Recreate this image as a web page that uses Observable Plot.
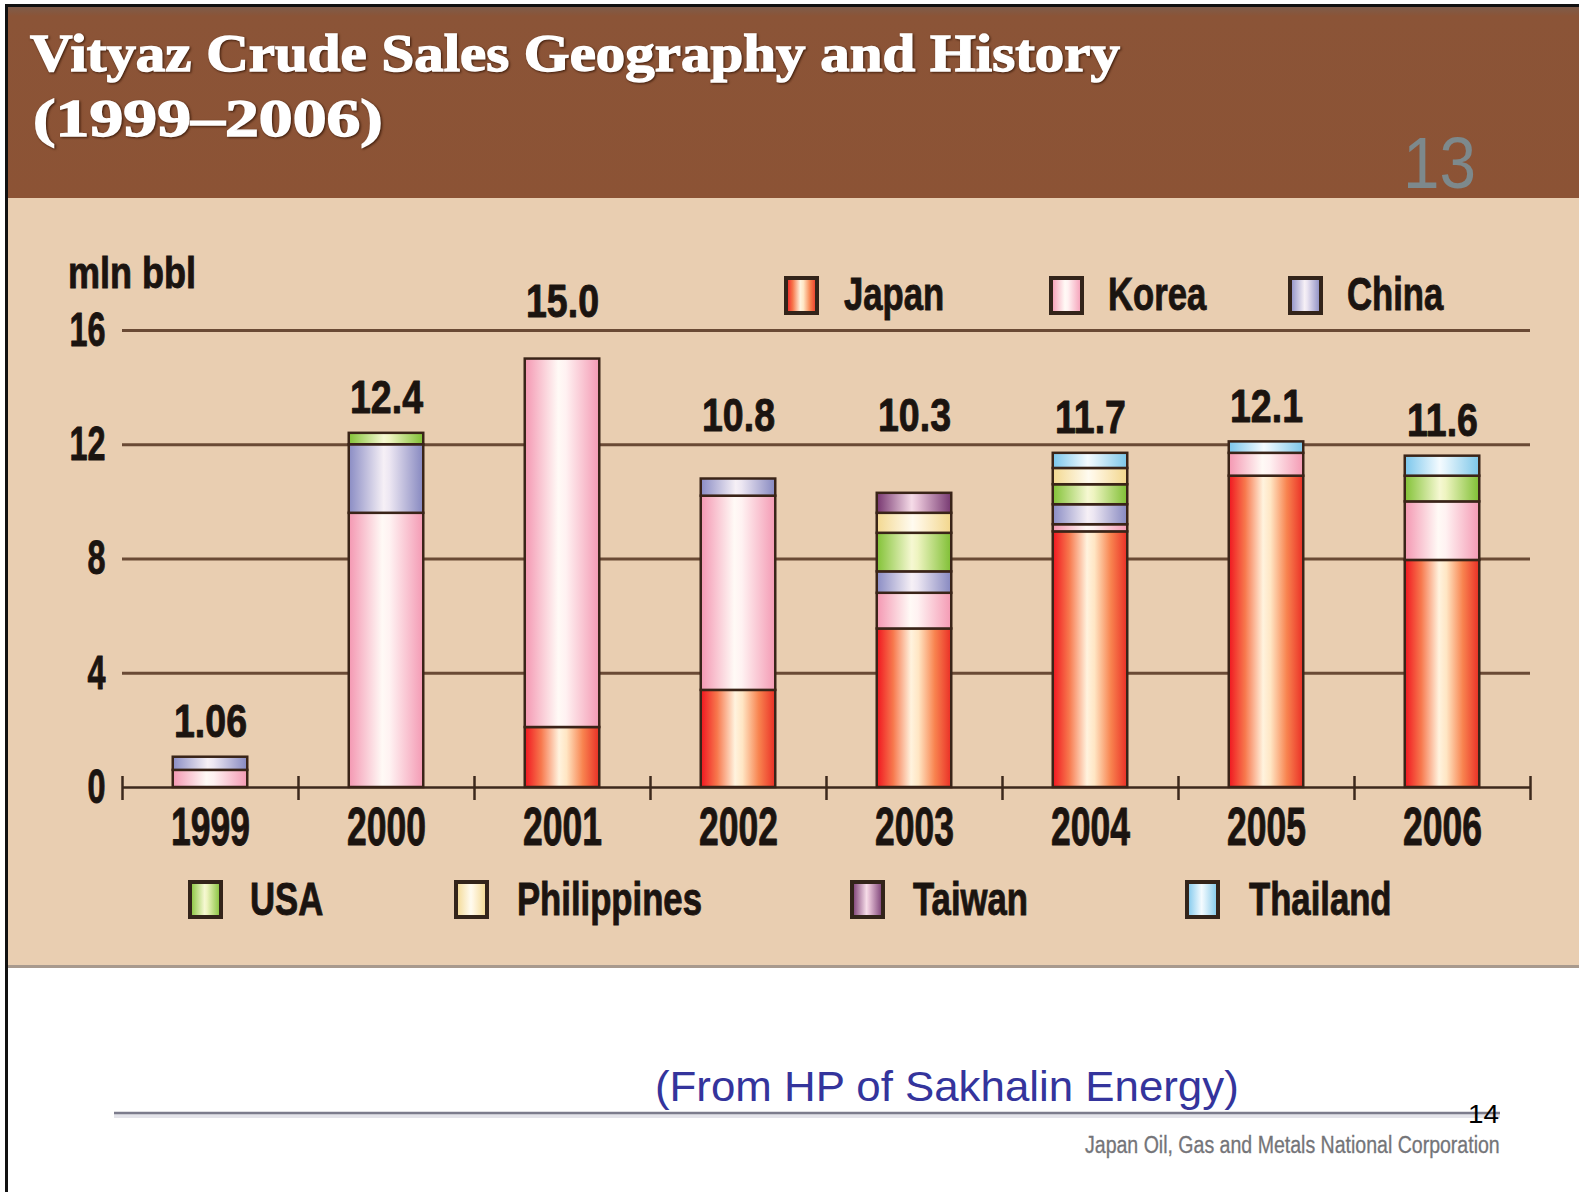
<!DOCTYPE html>
<html>
<head>
<meta charset="utf-8">
<script src="https://cdn.jsdelivr.net/npm/d3@7"></script>
<script src="https://cdn.jsdelivr.net/npm/@observablehq/plot@0.6"></script>
<style>
  html, body { margin: 0; padding: 0; background: #ffffff; }
  #page { position: relative; width: 1579px; height: 1192px; overflow: hidden; background: #ffffff; }
  #frame { position: absolute; left: 5px; top: 4px; width: 1600px; height: 1300px; border-left: 3px solid #111; border-top: 3px solid #111; }
  #header { position: absolute; left: 8px; top: 7px; width: 1571px; height: 191px;
            background: linear-gradient(#7e5c4a 0px, #8b5437 9px, #8c5335 100%); }
  #panel { position: absolute; left: 8px; top: 198px; width: 1571px; height: 767px; background: #e9ceb1;
           border-bottom: 3px solid #a89a8e; }
  #chart { position: absolute; left: 0; top: 240px; }
  #overlay { position: absolute; left: 0; top: 0; pointer-events: none; }
  #defs { position: absolute; left: 0; top: 0; width: 0; height: 0; }
</style>
</head>
<body>
<div id="page">
  <div id="frame"></div>
  <div id="header"></div>
  <div id="panel"></div>
  <div id="chart"></div>
</div>
<script>
// ---------------- data ----------------
const years = ["1999", "2000", "2001", "2002", "2003", "2004", "2005", "2006"];
const countries = ["Japan", "Korea", "China", "USA", "Philippines", "Taiwan", "Thailand"];
const japan       = [0,    0,    2.1,  3.4, 5.55, 8.95, 10.9, 7.95];
const korea       = [0.6,  9.6,  12.9, 6.8, 1.25, 0.25, 0.8,  2.05];
const china       = [0.46, 2.4,  0,    0.6, 0.75, 0.7,  0,    0];
const usa         = [0,    0.4,  0,    0,   1.35, 0.7,  0,    0.9];
const philippines = [0,    0,    0,    0,   0.7,  0.57, 0,    0];
const taiwan      = [0,    0,    0,    0,   0.7,  0,    0,    0];
const thailand    = [0,    0,    0,    0,   0,    0.53, 0.4,  0.7];
const totalLabels = ["1.06", "12.4", "15.0", "10.8", "10.3", "11.7", "12.1", "11.6"];
const yTicks = [0, 4, 8, 12, 16];
const gridTicks = [4, 8, 12, 16];
const unitLabel = "mln bbl";
const titleLines = ["Vityaz Crude Sales Geography and History", "(1999\u20132006)"];
const slideNumber = "13";
const sourceNote = "(From HP of Sakhalin Energy)";
const pageNumber = "14";
const orgName = "Japan Oil, Gas and Metals National Corporation";

const series = [japan, korea, china, usa, philippines, taiwan, thailand];

// ---------------- styles ----------------
const INK = "#1b1410";
const COND = '"Liberation Sans Narrow", "Liberation Sans", "DejaVu Sans Condensed", Arial, sans-serif';
const gradients = {
  Japan:       [["0%", "#f0151f"], ["22%", "#f7784d"], ["46%", "#fff3de"], ["56%", "#ffe6c4"], ["78%", "#f8834f"], ["100%", "#ea2e25"]],
  Korea:       [["0%", "#f497b2"], ["45%", "#fffaf6"], ["55%", "#fff2f2"], ["100%", "#f49ab4"]],
  China:       [["0%", "#8a8cc4"], ["47%", "#f6f0f6"], ["55%", "#ece6f2"], ["100%", "#8688c0"]],
  USA:         [["0%", "#82c236"], ["47%", "#f6f8d2"], ["55%", "#eef4c0"], ["100%", "#7fbf34"]],
  Philippines: [["0%", "#f3d890"], ["48%", "#fffbf0"], ["56%", "#fff6e2"], ["100%", "#f2d68c"]],
  Taiwan:      [["0%", "#773670"], ["47%", "#f6dce8"], ["55%", "#e8c4d8"], ["100%", "#763871"]],
  Thailand:    [["0%", "#7ac6ec"], ["47%", "#f4fbff"], ["55%", "#e4f4fc"], ["100%", "#7cc6e8"]]
};
const gid = c => "grad-" + c;

// gradient defs, shared by chart and legend
const defsSvg = d3.select("body").append("svg").attr("id", "defs").attr("width", 0).attr("height", 0);
const defs = defsSvg.append("defs");
for (const c of countries) {
  const g = defs.append("linearGradient").attr("id", gid(c)).attr("x1", "0").attr("x2", "1").attr("y1", "0").attr("y2", "0");
  for (const [o, col] of gradients[c]) g.append("stop").attr("offset", o).attr("stop-color", col);
}

// ---------------- layout ----------------
const W = 1579, H = 640, mT = 90, mB = 93, mL = 122, mR = 49;
const step = (W - mL - mR) / years.length;
const barW = 74.5;
const inset = (step - barW) / 2;
const yPix = d3.scaleLinear([0, 16], [H - mB, mT]);   // same mapping as the plot's y scale
const LABEL_GAP = 20, LABEL_CAP = 33;

// total labels sit above their bar, lifted above a gridline they would cross
function labelY(total) {
  let base = yPix(total) - LABEL_GAP;
  for (const g of gridTicks) {
    const gy = yPix(g);
    if (gy >= base - LABEL_CAP - 3 && gy <= base + 3) base = gy - 14;
  }
  return yPix.invert(base);
}

// ---------------- data tables ----------------
const rows = [];
countries.forEach((c, ci) => years.forEach((y, i) => {
  const v = series[ci][i];
  if (v > 0) rows.push({year: y, country: c, value: v});
}));
const totals = years.map((y, i) => {
  const total = d3.sum(series, s => s[i]);
  return {year: y, total, at: labelY(total), label: totalLabels[i]};
});

// ---------------- chart ----------------
const plot = Plot.plot({
  width: W, height: H,
  marginTop: mT, marginBottom: mB, marginLeft: mL, marginRight: mR,
  style: {background: "transparent", overflow: "visible"},
  x: {type: "band", domain: years, padding: 0, axis: null},
  y: {domain: [0, 16], axis: null},
  color: {type: "ordinal", domain: countries, range: countries.map(c => `url(#${gid(c)})`)},
  marks: [
    Plot.ruleY(gridTicks, {stroke: "#6a4a35", strokeWidth: 3}),
    Plot.ruleY([0], {stroke: "#3c291d", strokeWidth: 2.5}),
    Plot.ruleX(years, {x: d => d, y1: () => 0, y2: () => 0, dx: -step / 2, insetTop: -11, insetBottom: -13, stroke: "#3c291d", strokeWidth: 2.5}),
    Plot.ruleX(years.slice(-1), {x: d => d, y1: () => 0, y2: () => 0, dx: step / 2, insetTop: -11, insetBottom: -13, stroke: "#3c291d", strokeWidth: 2.5}),
    Plot.barY(rows, {x: "year", y: "value", fill: "country", stroke: "#3a2418", strokeWidth: 2.5, insetLeft: inset, insetRight: inset}),
    Plot.text(totals, {x: "year", y: "at", text: "label", lineAnchor: "bottom",
      fontSize: 46, fontWeight: "bold", fontFamily: COND, fill: INK, stroke: INK, strokeWidth: 0.9}),
    Plot.text(years, {x: d => d, y: () => 0, text: d => d, dy: 57, lineAnchor: "bottom",
      fontSize: 53, fontWeight: "bold", fontFamily: COND, fill: INK, stroke: INK, strokeWidth: 0.9}),
    Plot.text(yTicks, {y: d => d, text: d => String(d), frameAnchor: "left", textAnchor: "end", dx: -17, lineAnchor: "middle",
      fontSize: 48, fontWeight: "bold", fontFamily: COND, fill: INK, stroke: INK, strokeWidth: 0.9})
  ]
});
document.getElementById("chart").appendChild(plot);

// condense helpers
function scaleText(el, f) {
  let tr = el.getAttribute("transform");
  if (!tr) {
    const x = +el.getAttribute("x") || 0, y = +el.getAttribute("y") || 0;
    el.setAttribute("x", 0); el.setAttribute("y", 0);
    tr = `translate(${x},${y})`;
  }
  el.setAttribute("transform", tr + ` scale(${f},1)`);
}
function condenseGroup(texts, sampleText, target) {
  const sample = texts.find(t => t.textContent === sampleText) || texts[0];
  const w = sample.getBBox().width;
  const f = target / w;
  texts.forEach(t => scaleText(t, f));
}
const textGroups = Array.from(plot.querySelectorAll('g[aria-label="text"]'));
if (textGroups.length >= 3) {
  condenseGroup(Array.from(textGroups[0].querySelectorAll("text")), "15.0", 73);
  condenseGroup(Array.from(textGroups[1].querySelectorAll("text")), "1999", 79);
  condenseGroup(Array.from(textGroups[2].querySelectorAll("text")), "16", 36);
}

// ---------------- overlay: title, legend, notes ----------------
const ov = d3.select("#page").append("svg").attr("id", "overlay").attr("width", 1579).attr("height", 1192);

function addText(p) {
  const t = ov.append("text").attr("x", 0).attr("y", 0)
    .attr("font-size", p.size).attr("font-family", p.family).attr("font-weight", p.weight || "normal")
    .attr("fill", p.fill).text(p.text);
  if (p.stroke) t.attr("stroke", p.stroke).attr("stroke-width", p.strokeWidth);
  if (p.filter) t.style("filter", p.filter);
  const w = t.node().getComputedTextLength();
  const f = p.factor != null ? p.factor : (p.width ? p.width / w : 1);
  t.attr("transform", `translate(${p.x},${p.y}) scale(${f},1)`);
  return {node: t, w};
}

const SERIF = '"Liberation Serif", "DejaVu Serif", serif';
const shadow = "drop-shadow(1.5px 1.5px 1px rgba(50,20,5,0.85))";
addText({text: titleLines[0], x: 30, y: 71, size: 53, family: SERIF, weight: "bold", fill: "#ffffff", stroke: "#ffffff", strokeWidth: 1.4, width: 1090, filter: shadow});
addText({text: titleLines[1], x: 33, y: 136, size: 53, family: SERIF, weight: "bold", fill: "#ffffff", stroke: "#ffffff", strokeWidth: 1.4, width: 350, filter: shadow});
addText({text: slideNumber, x: 1403, y: 188, size: 73, family: '"Liberation Sans", Arial, sans-serif', fill: "#7d898c", width: 73});

addText({text: unitLabel, x: 68, y: 288, size: 44, family: COND, weight: "bold", fill: INK, stroke: INK, strokeWidth: 0.9, width: 128});

// legend
const legendLayout = [
  {c: "Japan", sx: 786, tx: 844, sy: 278, ty: 310},
  {c: "Korea", sx: 1051, tx: 1108, sy: 278, ty: 310},
  {c: "China", sx: 1290, tx: 1347, sy: 278, ty: 310},
  {c: "USA", sx: 190, tx: 250, sy: 882, ty: 915},
  {c: "Philippines", sx: 456, tx: 517, sy: 882, ty: 915},
  {c: "Taiwan", sx: 852, tx: 913, sy: 882, ty: 915},
  {c: "Thailand", sx: 1187, tx: 1249, sy: 882, ty: 915}
];
// measure uniform condense factor from the widest label
const probe = ov.append("text").attr("font-size", 46).attr("font-family", COND).attr("font-weight", "bold").text("Philippines");
const legF = 185 / probe.node().getComputedTextLength();
probe.remove();
for (const L of legendLayout) {
  ov.append("rect").attr("x", L.sx).attr("y", L.sy).attr("width", 31).attr("height", 35)
    .attr("fill", `url(#${gid(L.c)})`).attr("stroke", "#33241a").attr("stroke-width", 4);
  addText({text: L.c, x: L.tx, y: L.ty, size: 46, family: COND, weight: "bold", fill: INK, stroke: INK, strokeWidth: 0.9, factor: legF});
}

// footer
addText({text: sourceNote, x: 655, y: 1101, size: 43, family: '"Liberation Sans", Arial, sans-serif', fill: "#34349c", width: 584});
ov.append("line").attr("x1", 114).attr("x2", 1500).attr("y1", 1116).attr("y2", 1116).attr("stroke", "#e4e4ea").attr("stroke-width", 4);
ov.append("line").attr("x1", 114).attr("x2", 1500).attr("y1", 1113).attr("y2", 1113).attr("stroke", "#7c7c8c").attr("stroke-width", 2.5);
addText({text: pageNumber, x: 1468, y: 1123, size: 26, family: '"Liberation Sans", Arial, sans-serif', fill: "#000000", width: 31});
addText({text: orgName, x: 1085, y: 1153, size: 23, family: COND, fill: "#747478", stroke: "#747478", strokeWidth: 0.3, width: 415});
</script>
</body>
</html>
